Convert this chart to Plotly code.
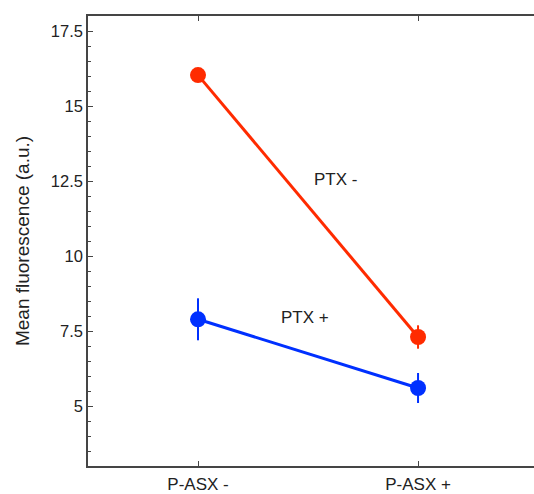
import plotly.graph_objects as go

categories = ["P-ASX -", "P-ASX +"]
ptx_minus = [16.03, 7.3]
ptx_minus_err = [0.2, 0.39]
ptx_plus = [7.89, 5.6]
ptx_plus_err = [0.7, 0.5]
y_ticks = [5, 7.5, 10, 12.5, 15, 17.5]
y_tick_text = ["5", "7.5", "10", "12.5", "15", "17.5"]

RED = "#FF2B00"
BLUE = "#0030FF"
AX = "#454545"
TXT = "#222222"
FONT = "Liberation Sans, Arial, Helvetica, sans-serif"

fig = go.Figure()
fig.add_trace(go.Scatter(
    x=categories, y=ptx_minus, mode="lines+markers",
    line=dict(color=RED, width=3),
    marker=dict(color=RED, size=16),
    error_y=dict(type="data", array=ptx_minus_err, color=RED, thickness=2, width=0),
    showlegend=False))
fig.add_trace(go.Scatter(
    x=categories, y=ptx_plus, mode="lines+markers",
    line=dict(color=BLUE, width=3),
    marker=dict(color=BLUE, size=16),
    error_y=dict(type="data", array=ptx_plus_err, color=BLUE, thickness=2, width=0),
    showlegend=False))

fig.add_annotation(x=0.627, y=12.55, text="PTX -", showarrow=False,
                   font=dict(size=17, color=TXT, family=FONT))
fig.add_annotation(x=0.484, y=7.95, text="PTX +", showarrow=False,
                   font=dict(size=17, color=TXT, family=FONT))

fig.update_layout(
    width=534, height=494,
    margin=dict(l=88, r=0, t=16, b=28),
    paper_bgcolor="white", plot_bgcolor="white",
    font=dict(family=FONT, size=16, color=TXT),
    xaxis=dict(
        type="category", range=[-0.5, 1.527],
        showline=True, linecolor=AX, linewidth=1.5, mirror="ticks",
        ticks="inside", ticklen=5, tickcolor=AX, tickwidth=1,
        showgrid=False, zeroline=False,
        tickfont=dict(size=17, color=TXT),
        ticklabelstandoff=2,
    ),
    yaxis=dict(
        range=[3, 18],
        tickvals=y_ticks, ticktext=y_tick_text,
        showline=True, linecolor=AX, linewidth=1.5,
        ticks="inside", ticklen=5, tickcolor=AX, tickwidth=1,
        minor=dict(dtick=0.5, ticks="inside", ticklen=3, tickcolor=AX, showgrid=False),
        showgrid=False, zeroline=False,
        tickfont=dict(size=16.5, color=TXT),
        title=dict(text="Mean fluorescence (a.u.)", font=dict(size=19, color=TXT), standoff=16),
    ),
)

fig.write_html(
    "out.html",
    config={"displayModeBar": False},
    post_script="document.body.style.margin='0';document.body.style.overflow='hidden';",
)
